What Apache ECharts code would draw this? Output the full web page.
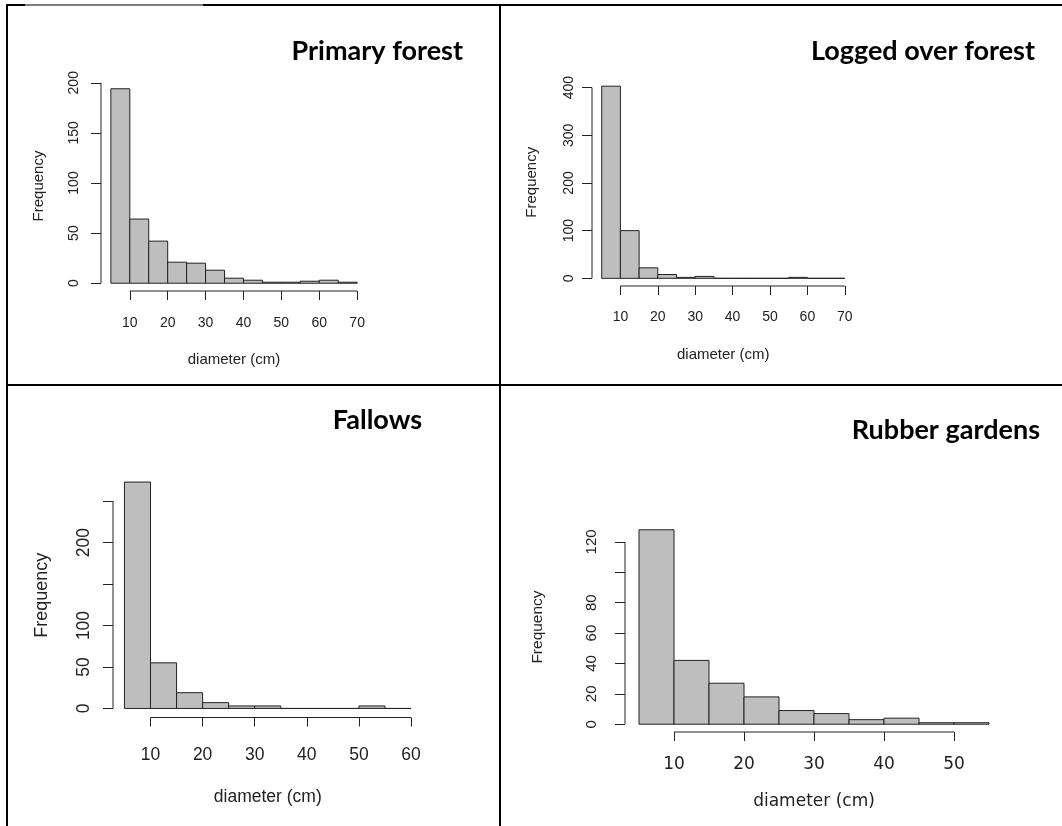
<!DOCTYPE html>
<html>
<head>
<meta charset="utf-8">
<script src="https://cdn.jsdelivr.net/npm/echarts@6/dist/echarts.min.js"></script>
<style>
  html, body { margin: 0; padding: 0; background: #fff; }
  #chart { width: 1062px; height: 826px; }
</style>
</head>
<body>
<div id="chart"></div>
<script>
// bin edges (cm) and counts
const primaryBreaks = [5, 10, 15, 20, 25, 30, 35, 40, 45, 50, 55, 60, 65, 70];
const primaryCounts = [194, 64, 42, 21, 20, 13, 5, 3, 1, 1, 2, 3, 1];
const primaryXTicks = [10, 20, 30, 40, 50, 60, 70];
const primaryYTicks = [0, 50, 100, 150, 200];
const primaryYLabels = [0, 50, 100, 150, 200];

const loggedBreaks = [5, 10, 15, 20, 25, 30, 35, 40, 45, 50, 55, 60, 65, 70];
const loggedCounts = [403, 100, 22, 8, 2, 4, 0, 0, 0, 0, 2, 0, 0];
const loggedXTicks = [10, 20, 30, 40, 50, 60, 70];
const loggedYTicks = [0, 100, 200, 300, 400];
const loggedYLabels = [0, 100, 200, 300, 400];

const fallowBreaks = [5, 10, 15, 20, 25, 30, 35, 40, 45, 50, 55, 60];
const fallowCounts = [273, 55, 19, 7, 3, 3, 0, 0, 0, 3, 0];
const fallowXTicks = [10, 20, 30, 40, 50, 60];
const fallowYTicks = [0, 50, 100, 150, 200, 250];
const fallowYLabels = [0, 50, 100, 200];

const rubberBreaks = [5, 10, 15, 20, 25, 30, 35, 40, 45, 50, 55];
const rubberCounts = [128, 42, 27, 18, 9, 7, 3, 4, 1, 1];
const rubberXTicks = [10, 20, 30, 40, 50];
const rubberYTicks = [0, 20, 40, 60, 80, 100, 120];
const rubberYLabels = [0, 20, 40, 60, 80, 120];

const titles = ['Primary forest', 'Logged over forest', 'Fallows', 'Rubber gardens'];
const xName = 'diameter (cm)';
const yName = 'Frequency';

const INK = '#222';
const BAR = '#bebebe';

// layout of each panel (plot region = R's usr box)
const panels = [
  {
    breaks: primaryBreaks, counts: primaryCounts, xTicks: primaryXTicks,
    yTicks: primaryYTicks, yLabels: primaryYLabels,
    grid: { left: 101, top: 81, width: 266, height: 210 },
    title: { x: 463, y: 51 },
    tickFont: { fontFamily: 'Liberation Sans', fontSize: 14 },
    xFont: { fontFamily: 'Liberation Sans', fontSize: 15 }, yFont: 15,
    xMargin: 25, yMargin: 27, xGap: 61, yGap: 55
  },
  {
    breaks: loggedBreaks, counts: loggedCounts, xTicks: loggedXTicks,
    yTicks: loggedYTicks, yLabels: loggedYLabels,
    grid: { left: 592, top: 78.5, width: 262.5, height: 207.5 },
    title: { x: 1035, y: 51 },
    tickFont: { fontFamily: 'Liberation Sans', fontSize: 14 },
    xFont: { fontFamily: 'Liberation Sans', fontSize: 15 }, yFont: 15,
    xMargin: 24.5, yMargin: 23, xGap: 61.5, yGap: 53
  },
  {
    breaks: fallowBreaks, counts: fallowCounts, xTicks: fallowXTicks,
    yTicks: fallowYTicks, yLabels: fallowYLabels,
    grid: { left: 113, top: 473, width: 309.5, height: 244.5 },
    title: { x: 422, y: 420 },
    tickFont: { fontFamily: 'Liberation Sans', fontSize: 17.5 },
    xFont: { fontFamily: 'Liberation Sans', fontSize: 17.5 }, yFont: 18,
    xMargin: 29, yMargin: 29, xGap: 71, yGap: 62
  },
  {
    breaks: rubberBreaks, counts: rubberCounts, xTicks: rubberXTicks,
    yTicks: rubberYTicks, yLabels: rubberYLabels,
    grid: { left: 625, top: 522, width: 378, height: 210 },
    title: { x: 1040, y: 430 },
    tickFont: { fontFamily: 'DejaVu Sans', fontSize: 17 },
    xFont: { fontFamily: 'DejaVu Sans', fontSize: 17 }, yFont: 15.5,
    yTickFont: 15,
    xMargin: 24, yMargin: 33, xGap: 61, yGap: 79
  }
];

const grids = [], xAxes = [], yAxes = [], series = [];

panels.forEach((p, i) => {
  const xLo = p.breaks[0], xHi = p.breaks[p.breaks.length - 1];
  const yHi = Math.max(...p.counts);
  // R pads both ranges by 4%
  const xMin = xLo - 0.04 * (xHi - xLo), xMax = xHi + 0.04 * (xHi - xLo);
  const yMin = -0.04 * yHi, yMax = 1.04 * yHi;

  grids.push(Object.assign({ outerBoundsMode: 'none', containLabel: false }, p.grid));

  xAxes.push({
    type: 'value', gridIndex: i, min: xMin, max: xMax,
    axisLine: { show: false, onZero: false },
    splitLine: { show: false },
    axisTick: { show: true, customValues: p.xTicks, length: 9, lineStyle: { color: INK, width: 1 } },
    axisLabel: {
      customValues: p.xTicks, margin: p.xMargin, color: INK, hideOverlap: false,
      fontFamily: p.tickFont.fontFamily, fontSize: p.tickFont.fontSize
    },
    name: xName, nameLocation: 'middle', nameGap: p.xGap,
    nameTextStyle: { color: INK, fontFamily: p.xFont.fontFamily, fontSize: p.xFont.fontSize }
  });

  yAxes.push({
    type: 'value', gridIndex: i, min: yMin, max: yMax,
    axisLine: { show: false, onZero: false },
    splitLine: { show: false },
    axisTick: { show: true, customValues: p.yTicks, length: 10, lineStyle: { color: INK, width: 1 } },
    axisLabel: {
      customValues: p.yLabels, rotate: 90, margin: p.yMargin, color: INK, hideOverlap: false,
      fontFamily: 'Liberation Sans', fontSize: p.yTickFont || p.tickFont.fontSize,
      verticalAlign: 'middle'
    },
    name: yName, nameLocation: 'middle', nameGap: p.yGap,
    nameTextStyle: { color: INK, fontFamily: 'Liberation Sans', fontSize: p.yFont }
  });

  // histogram rectangles
  const bins = p.counts.map((c, k) => [p.breaks[k], p.breaks[k + 1], c]);
  series.push({
    type: 'custom', xAxisIndex: i, yAxisIndex: i, silent: true,
    encode: { x: [0, 1], y: 2 },
    data: bins,
    renderItem: (params, api) => {
      const a = api.coord([api.value(0), 0]);
      const b = api.coord([api.value(1), api.value(2)]);
      return {
        type: 'rect',
        shape: { x: a[0], y: b[1], width: b[0] - a[0], height: a[1] - b[1] },
        style: { fill: BAR, stroke: INK, lineWidth: 1 }
      };
    }
  });

  // R-style axis lines: only from first to last tick
  series.push({
    type: 'custom', xAxisIndex: i, yAxisIndex: i, silent: true, z: 5,
    encode: { x: 0, y: 2 },
    data: [[p.xTicks[0], p.xTicks[p.xTicks.length - 1], p.yTicks[0], p.yTicks[p.yTicks.length - 1]]],
    renderItem: (params, api) => {
      const x0 = api.coord([api.value(0), yMin]);
      const x1 = api.coord([api.value(1), yMin]);
      const y0 = api.coord([xMin, api.value(2)]);
      const y1 = api.coord([xMin, api.value(3)]);
      return {
        type: 'group',
        children: [
          { type: 'line', shape: { x1: x0[0], y1: x0[1], x2: x1[0], y2: x1[1] }, style: { stroke: INK, lineWidth: 1 } },
          { type: 'line', shape: { x1: y0[0], y1: y0[1], x2: y1[0], y2: y1[1] }, style: { stroke: INK, lineWidth: 1 } }
        ]
      };
    }
  });
});

// table borders and panel titles
const graphic = [
  { type: 'line', shape: { x1: 7, y1: 5, x2: 25, y2: 5 }, style: { stroke: '#000', lineWidth: 2 } },
  { type: 'line', shape: { x1: 25, y1: 5, x2: 203, y2: 5 }, style: { stroke: '#000', lineWidth: 1 } },
  { type: 'line', shape: { x1: 203, y1: 5, x2: 1062, y2: 5 }, style: { stroke: '#000', lineWidth: 2 } },
  { type: 'line', shape: { x1: 7, y1: 4, x2: 7, y2: 826 }, style: { stroke: '#000', lineWidth: 2 } },
  { type: 'line', shape: { x1: 500, y1: 4, x2: 500, y2: 826 }, style: { stroke: '#000', lineWidth: 2 } },
  { type: 'line', shape: { x1: 7, y1: 385, x2: 1062, y2: 385 }, style: { stroke: '#000', lineWidth: 2 } }
];
panels.forEach((p, i) => {
  graphic.push({
    type: 'text', x: p.title.x, y: p.title.y,
    style: {
      text: titles[i], align: 'right', verticalAlign: 'middle',
      fontFamily: 'Lato', fontWeight: 'bold', fontSize: 27, fill: '#000'
    }
  });
});

const chart = echarts.init(document.getElementById('chart'), null, { renderer: 'canvas' });
chart.setOption({
  animation: false,
  backgroundColor: '#fff',
  grid: grids,
  xAxis: xAxes,
  yAxis: yAxes,
  series: series,
  graphic: graphic
});
</script>
</body>
</html>
